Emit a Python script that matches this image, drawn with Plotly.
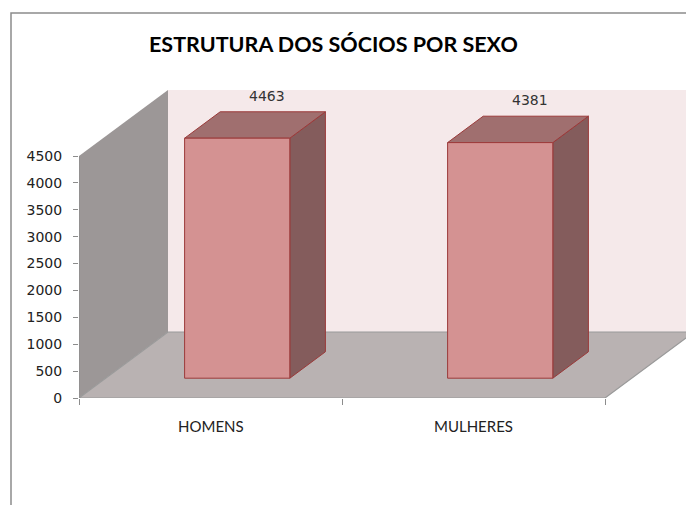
import plotly.graph_objects as go

# ---- data ----
categories = ["HOMENS", "MULHERES"]
values = [4463, 4381]
y_ticks = [0, 500, 1000, 1500, 2000, 2500, 3000, 3500, 4000, 4500]
title_text = "ESTRUTURA DOS SÓCIOS POR SEXO"

# ---- geometry (pseudo-3D, in data units) ----
OFF = 8                      # page body margin offset
W, H = 694, 505
ML = 79 - OFF
MT = 60 - OFF
PLOT_BOTTOM = 398 - OFF
MB = H - PLOT_BOTTOM
MR = 0
plot_w = W - ML - MR
plot_h = H - MT - MB
PX_PER_X = 263.0            # pixels per category unit
PX_PER_Y = 242.0 / 4500     # pixels per value unit
DX = 89 / PX_PER_X          # depth offset in x units
DY = 66 / PX_PER_Y          # depth offset in y units
YMAX = y_ticks[-1]
x0, x1 = -0.5, len(categories) - 0.5
HALF = 0.2
D_FRONT, D_BACK = 0.3, 0.7

c_back = "#F5E9EA"
c_side_wall = "#9C9797"
c_floor = "#B9B2B2"
c_edge_gray = "#9A9A9A"
c_front = "#D49292"
c_top = "#A06F6F"
c_side = "#845C5C"
c_bar_edge = "#9B3A3A"

fig = go.Figure()

def poly(xs, ys, fill, line_color=None, width=1):
    fig.add_trace(go.Scatter(
        x=xs + [xs[0]], y=ys + [ys[0]], mode="lines", fill="toself",
        fillcolor=fill,
        line=dict(color=line_color or fill, width=width if line_color else 0),
        hoverinfo="skip", showlegend=False))

# back wall
poly([x0 + DX, x1 + DX, x1 + DX, x0 + DX],
     [DY, DY, YMAX + DY, YMAX + DY], c_back)
# side wall
poly([x0, x0 + DX, x0 + DX, x0], [0, DY, YMAX + DY, YMAX], c_side_wall)
# floor
poly([x0, x1, x1 + DX, x0 + DX], [0, 0, DY, DY], c_floor, c_edge_gray, 1.2)
# y axis line
fig.add_trace(go.Scatter(x=[x0, x0], y=[0, YMAX], mode="lines",
                         line=dict(color="#8C8C8C", width=1.2),
                         hoverinfo="skip", showlegend=False))

# bars
for i, v in enumerate(values):
    fl, fr = i - HALF + D_FRONT * DX, i + HALF + D_FRONT * DX
    bl, br = i - HALF + D_BACK * DX, i + HALF + D_BACK * DX
    yf, yb = D_FRONT * DY, D_BACK * DY
    # side face
    poly([fr, br, br, fr], [yf, yb, v + yb, v + yf], c_side, c_bar_edge, 1)
    # top face
    poly([fl, fr, br, bl], [v + yf, v + yf, v + yb, v + yb], c_top, c_bar_edge, 1)
    # front face
    poly([fl, fr, fr, fl], [yf, yf, v + yf, v + yf], c_front, c_bar_edge, 1)
    # data label
    fig.add_annotation(x=i + 0.63 * DX, y=v + D_BACK * DY, text=str(v),
                       showarrow=False, yshift=16,
                       font=dict(family="DejaVu Sans", size=14, color="#333333"))
    # category label
    fig.add_annotation(x=i, y=0, text=categories[i], showarrow=False,
                       yshift=-28,
                       font=dict(family="Lato", size=15, color="#222222"))

ymax_range = plot_h / PX_PER_Y
xmax_range = x0 + plot_w / PX_PER_X

fig.update_layout(
    width=W, height=H,
    margin=dict(l=ML, r=MR, t=MT, b=MB),
    paper_bgcolor="white", plot_bgcolor="white",
    showlegend=False,
    xaxis=dict(range=[x0, xmax_range], showgrid=False, zeroline=False,
               showline=False,
               tickvals=[x0 + k for k in range(len(categories) + 1)],
               ticktext=["" for _ in range(len(categories) + 1)],
               ticks="outside", ticklen=6, tickcolor="#8C8C8C", tickwidth=1.2),
    yaxis=dict(range=[0, ymax_range], showgrid=False, zeroline=False,
               showline=False, tickvals=y_ticks,
               ticktext=[str(t) for t in y_ticks],
               ticks="outside", ticklen=5, tickcolor="#8C8C8C", tickwidth=1.2,
               ticklabelstandoff=8,
               tickfont=dict(family="DejaVu Sans", size=14, color="#222222")),
)

# title
fig.add_annotation(xref="paper", yref="paper",
                   x=(333 - OFF - ML) / plot_w,
                   y=(PLOT_BOTTOM - (44 - OFF)) / plot_h,
                   text="<b>" + title_text + "</b>", showarrow=False,
                   font=dict(family="Lato", size=21.5, color="#000000"),
                   xanchor="center", yanchor="middle")

# chart border
fig.add_shape(type="rect", xref="paper", yref="paper",
              x0=(11 - OFF - ML) / plot_w, x1=(W + 20 - ML) / plot_w,
              y0=(PLOT_BOTTOM - (H + 20)) / plot_h,
              y1=(PLOT_BOTTOM - (13 - OFF)) / plot_h,
              line=dict(color="#8C8C8C", width=1.5), fillcolor="rgba(0,0,0,0)",
              layer="above")

fig.write_html("out.html")
